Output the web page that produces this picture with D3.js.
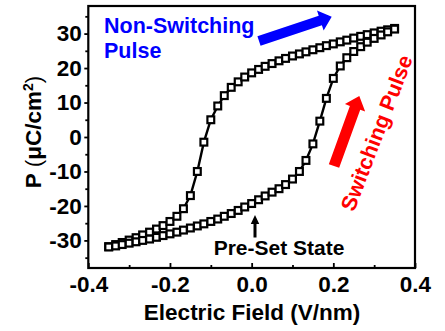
<!DOCTYPE html>
<html>
<head>
<meta charset="utf-8">
<script src="https://cdn.jsdelivr.net/npm/d3@7"></script>
<style>
  body { margin: 0; background: #fff; }
  text { font-family: "Liberation Sans", Arial, sans-serif; font-weight: bold; }
</style>
</head>
<body>
<script>
// Electric field values (V/nm), shared by both branches
var fieldValues = [-0.35, -0.333, -0.317, -0.3, -0.283, -0.267, -0.25, -0.233, -0.217, -0.2,
  -0.183, -0.167, -0.15, -0.133, -0.117, -0.1, -0.083, -0.067, -0.05, -0.033, -0.017, 0,
  0.017, 0.033, 0.05, 0.067, 0.083, 0.1, 0.117, 0.133, 0.15, 0.167, 0.183, 0.2, 0.217,
  0.233, 0.25, 0.267, 0.283, 0.3, 0.317, 0.333, 0.35];

// Polarization (uC/cm2), descending branch
var upperP = [-31.8, -31.2, -30.6, -29.9, -29.2, -28.4, -27.6, -26.7, -25.7, -24.5, -23.0,
  -20.8, -17.0, -10.0, -1.5, 5.0, 9.0, 12.0, 14.4, 16.0, 17.4, 18.6, 19.6, 20.5, 21.3,
  22.1, 22.8, 23.5, 24.1, 24.7, 25.3, 25.9, 26.5, 27.0, 27.6, 28.1, 28.7, 29.2, 29.7,
  30.2, 30.7, 31.1, 31.5];

// Polarization (uC/cm2), ascending branch
var lowerP = [-31.9, -31.6, -31.2, -30.8, -30.4, -30.0, -29.6, -29.1, -28.6, -28.1, -27.6,
  -27.0, -26.4, -25.8, -25.2, -24.5, -23.8, -23.0, -22.2, -21.3, -20.3, -19.3, -18.2,
  -17.1, -16.0, -15.0, -13.8, -12.2, -10.0, -6.8, -2.0, 4.6, 11.2, 17.0, 20.6, 23.0,
  24.8, 26.2, 27.5, 28.6, 29.6, 30.5, 31.3];

var xTicks = [-0.4, -0.2, 0, 0.2, 0.4];
var xMinorTicks = [-0.3, -0.1, 0.1, 0.3];
var yTicks = [-30, -20, -10, 0, 10, 20, 30];
var yMinorTicks = [-35, -25, -15, -5, 5, 15, 25, 35];

function draw() {
  var svgWidth = 445, svgHeight = 331;
  var left = 88.3, right = 415, top = 6, bottom = 268;

  var svg = d3.select("body").append("svg")
    .attr("width", svgWidth)
    .attr("height", svgHeight);

  var x = d3.scaleLinear().domain([-0.4, 0.4]).range([left, right]);
  var y = d3.scaleLinear().domain([-38, 38]).range([bottom, top]);

  // plain hyphen for negatives, like the original
  var fmtX = function(d) { return d3.format(".1f")(d).replace("\u2212", "-"); };
  var fmtY = function(d) { return d3.format("d")(d).replace("\u2212", "-"); };

  // bottom axis, ticks pointing inside
  svg.append("g")
    .attr("transform", "translate(0," + bottom + ")")
    .call(d3.axisBottom(x).tickValues(xTicks).tickSize(-5).tickPadding(8).tickFormat(fmtX));
  svg.append("g")
    .attr("transform", "translate(0," + bottom + ")")
    .call(d3.axisBottom(x).tickValues(xMinorTicks).tickSize(-3).tickFormat(""));

  // left axis, ticks pointing outside
  svg.append("g")
    .attr("transform", "translate(" + left + ",0)")
    .call(d3.axisLeft(y).tickValues(yTicks).tickSize(4).tickPadding(2.5).tickFormat(fmtY));
  svg.append("g")
    .attr("transform", "translate(" + left + ",0)")
    .call(d3.axisLeft(y).tickValues(yMinorTicks).tickSize(3).tickFormat(""));

  svg.selectAll(".domain").remove();
  svg.selectAll(".tick line").attr("stroke", "#000").attr("stroke-width", 1.8);
  svg.selectAll(".tick text")
    .attr("fill", "#000")
    .style("font-size", "22.5px")
    .style("font-family", "'Liberation Sans', Arial, sans-serif")
    .style("font-weight", "bold");

  // frame
  svg.append("rect")
    .attr("x", left).attr("y", top)
    .attr("width", right - left).attr("height", bottom - top)
    .attr("fill", "none").attr("stroke", "#000").attr("stroke-width", 2.2);

  var upper = fieldValues.map(function(f, i) { return {e: f, p: upperP[i]}; });
  var lower = fieldValues.map(function(f, i) { return {e: f, p: lowerP[i]}; });

  var line = d3.line()
    .x(function(d) { return x(d.e); })
    .y(function(d) { return y(d.p); });

  [upper, lower].forEach(function(branch) {
    svg.append("path")
      .datum(branch)
      .attr("d", line)
      .attr("fill", "none")
      .attr("stroke", "#000")
      .attr("stroke-width", 2.4);
  });

  var sq = 6.8;
  [upper, lower].forEach(function(branch) {
    svg.append("g").selectAll("rect")
      .data(branch)
      .enter().append("rect")
      .attr("x", function(d) { return x(d.e) - sq / 2; })
      .attr("y", function(d) { return y(d.p) - sq / 2; })
      .attr("width", sq).attr("height", sq)
      .attr("fill", "#fff")
      .attr("stroke", "#000")
      .attr("stroke-width", 2.2);
  });

  // axis titles
  svg.append("text")
    .attr("x", 252).attr("y", 320)
    .attr("text-anchor", "middle")
    .style("font-size", "22.5px")
    .text("Electric Field (V/nm)");

  var yt = svg.append("text")
    .attr("transform", "translate(41,132) rotate(-90)")
    .attr("text-anchor", "middle")
    .style("font-size", "22.5px");
  yt.append("tspan").text("P ");
  yt.append("tspan").style("font-weight", "normal").text("(");
  yt.append("tspan").text("\u03bcC/cm");
  yt.append("tspan").attr("dy", -8).style("font-size", "14px").text("2");
  yt.append("tspan").attr("dy", 8).style("font-weight", "normal").text(")");

  // arrows
  function arrow(x1, y1, x2, y2, shaft, headW, headL, color) {
    var dx = x2 - x1, dy = y2 - y1, len = Math.sqrt(dx * dx + dy * dy);
    var ux = dx / len, uy = dy / len, px = -uy, py = ux;
    var bx = x2 - ux * headL, by = y2 - uy * headL;
    var pts = [
      [x1 + px * shaft / 2, y1 + py * shaft / 2],
      [bx + px * shaft / 2, by + py * shaft / 2],
      [bx + px * headW / 2, by + py * headW / 2],
      [x2, y2],
      [bx - px * headW / 2, by - py * headW / 2],
      [bx - px * shaft / 2, by - py * shaft / 2],
      [x1 - px * shaft / 2, y1 - py * shaft / 2]
    ];
    svg.append("polygon")
      .attr("points", pts.map(function(p) { return p.join(","); }).join(" "))
      .attr("fill", color);
  }
  arrow(259, 41, 331.7, 16.7, 10, 21, 12, "#0000ff");
  arrow(334, 166, 359.3, 96, 11, 21.5, 12.5, "#ff0000");
  arrow(255, 237.5, 255, 215, 3, 8.5, 9, "#000");

  // annotations
  svg.append("text").attr("x", 104).attr("y", 33)
    .attr("fill", "#0000ff").style("font-size", "21.5px").text("Non-Switching");
  svg.append("text").attr("x", 104).attr("y", 57.5)
    .attr("fill", "#0000ff").style("font-size", "21.5px").text("Pulse");

  svg.append("text")
    .attr("transform", "translate(377,133) rotate(-69)")
    .attr("text-anchor", "middle")
    .attr("dominant-baseline", "central")
    .attr("fill", "#ff0000")
    .style("font-size", "21.5px")
    .text("Switching Pulse");

  svg.append("text").attr("x", 279).attr("y", 254.5)
    .attr("text-anchor", "middle")
    .style("font-size", "21px")
    .text("Pre-Set State");
}

window.onload = draw;
</script>
</body>
</html>
